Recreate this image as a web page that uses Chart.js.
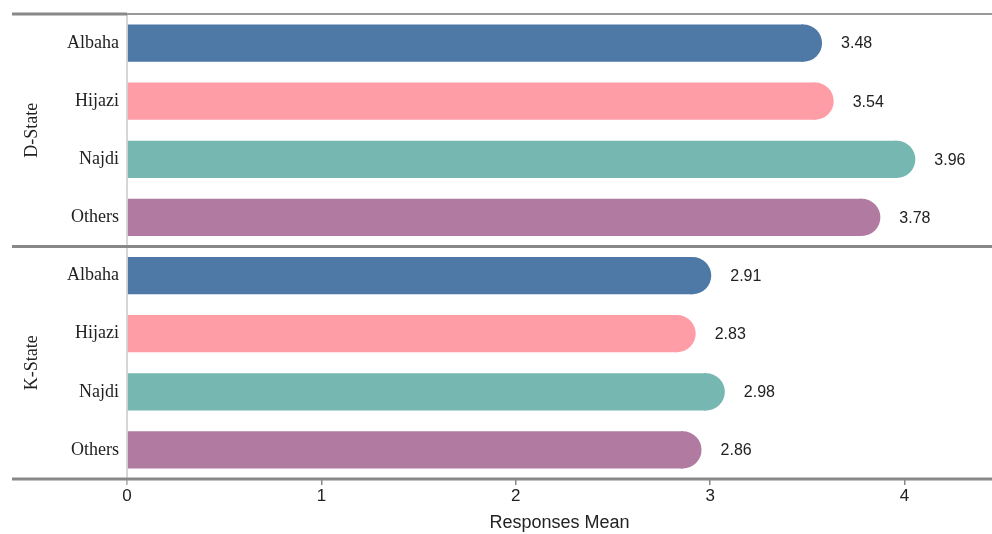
<!DOCTYPE html>
<html>

<head>
    <meta charset="UTF-8">
    <title>Responses Mean</title>
    <script src="https://cdn.jsdelivr.net/npm/chart.js@4.4.1/dist/chart.umd.min.js"></script>
    <style>
        html, body { margin: 0; padding: 0; background: #fff; }
        #wrap { width: 992px; height: 534px; }
    </style>
</head>

<body>
    <div id="wrap"><canvas id="bar-chart"></canvas></div>
</body>

<script>
    // data
    var groups = ['D-State', 'K-State'];
    var regions = ['Albaha', 'Hijazi', 'Najdi', 'Others'];
    var dState = [3.48, 3.54, 3.96, 3.78];
    var kState = [2.91, 2.83, 2.98, 2.86];
    var regionColors = ['#4e79a7', '#ff9da7', '#76b7b2', '#b07aa1'];
    var xTicks = [0, 1, 2, 3, 4];

    var labels = regions.concat(regions);
    var values = dState.concat(kState);
    var colors = regionColors.concat(regionColors);

    // round right end of each bar, value labels, group names and separators
    var decorations = {
        id: 'decorations',
        afterDatasetsDraw: function (chart) {
            var ctx = chart.ctx;
            var area = chart.chartArea;
            var y = chart.scales.y;
            var bars = chart.getDatasetMeta(0).data;
            ctx.save();
            bars.forEach(function (bar, i) {
                var r = bar.height / 2;
                ctx.fillStyle = colors[i];
                ctx.beginPath();
                ctx.moveTo(bar.x - 2, bar.y - r);
                ctx.lineTo(bar.x, bar.y - r);
                ctx.arc(bar.x, bar.y, r, -Math.PI / 2, Math.PI / 2);
                ctx.lineTo(bar.x - 2, bar.y + r);
                ctx.closePath();
                ctx.fill();
                ctx.fillStyle = '#222';
                ctx.font = '16px "Liberation Sans", Arial, sans-serif';
                ctx.textAlign = 'left';
                ctx.textBaseline = 'middle';
                ctx.fillText(values[i].toFixed(2), bar.x + r + 19, bar.y + 1);
            });

            // axis line at zero
            ctx.strokeStyle = '#c8c8c8';
            ctx.lineWidth = 1.5;
            ctx.beginPath();
            ctx.moveTo(area.left, area.top);
            ctx.lineTo(area.left, area.bottom + 6);
            ctx.stroke();

            // horizontal rules
            var top = y.getPixelForValue(-0.5);
            var mid = y.getPixelForValue(3.5);
            var bottom = y.getPixelForValue(7.5);
            ctx.strokeStyle = '#888';
            ctx.lineWidth = 3;
            ctx.beginPath();
            ctx.moveTo(12, top); ctx.lineTo(area.left, top);
            ctx.moveTo(12, mid); ctx.lineTo(chart.width, mid);
            ctx.moveTo(12, bottom); ctx.lineTo(chart.width, bottom);
            ctx.stroke();
            ctx.lineWidth = 2;
            ctx.strokeStyle = '#999';
            ctx.beginPath();
            ctx.moveTo(area.left, top); ctx.lineTo(chart.width, top);
            ctx.stroke();

            // group names
            ctx.fillStyle = '#222';
            ctx.font = '18px "Liberation Serif", "Times New Roman", serif';
            ctx.textAlign = 'center';
            ctx.textBaseline = 'middle';
            groups.forEach(function (g, k) {
                var cy = (y.getPixelForValue(k * 4 - 0.5) + y.getPixelForValue(k * 4 + 3.5)) / 2;
                ctx.save();
                ctx.translate(32, cy);
                ctx.rotate(-Math.PI / 2);
                ctx.fillText(g, 0, 0);
                ctx.restore();
            });
            ctx.restore();
        }
    };

    var chart = new Chart(document.getElementById('bar-chart'), {
        type: 'bar',
        data: {
            labels: labels,
            datasets: [{
                data: values,
                backgroundColor: colors,
                borderWidth: 0,
                categoryPercentage: 1,
                barPercentage: 0.64
            }]
        },
        options: {
            indexAxis: 'y',
            responsive: true,
            maintainAspectRatio: false,
            animation: false,
            layout: { padding: { top: 14, right: 0, left: 0, bottom: 0 } },
            plugins: {
                legend: { display: false },
                tooltip: { enabled: false }
            },
            scales: {
                x: {
                    min: 0,
                    max: 4.45,
                    afterBuildTicks: function (scale) {
                        scale.ticks = xTicks.map(function (v) { return { value: v }; });
                    },
                    grid: {
                        drawOnChartArea: false,
                        drawTicks: true,
                        tickLength: 6,
                        color: '#888',
                        lineWidth: 1.5
                    },
                    border: { display: false },
                    ticks: {
                        color: '#222',
                        padding: 1,
                        font: { family: '"Liberation Sans", Arial, sans-serif', size: 17 }
                    },
                    title: {
                        display: true,
                        text: 'Responses Mean',
                        color: '#222',
                        padding: { top: 5, bottom: 0 },
                        font: { family: '"Liberation Sans", Arial, sans-serif', size: 18 }
                    }
                },
                y: {
                    afterFit: function (scale) { scale.width = 127; },
                    grid: { display: false },
                    border: { display: false },
                    ticks: {
                        color: '#222',
                        padding: 0,
                        font: { family: '"Liberation Serif", "Times New Roman", serif', size: 18 }
                    }
                }
            }
        },
        plugins: [decorations]
    });
</script>

</html>
